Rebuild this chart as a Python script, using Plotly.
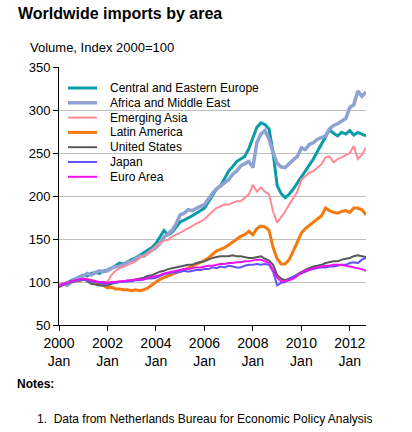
import pandas as pd
import plotly.graph_objects as go

# Bimonthly observations, Jan 2000 .. Sep 2012
dates = pd.date_range("2000-01-01", periods=77, freq="2MS")

cee = [95, 97, 99, 101, 104, 106,
       108, 107, 110, 111, 110, 113,
       114, 116, 119, 122, 121, 124,
       126, 128, 131, 134, 137, 140,
       145, 152, 160, 155, 158, 164,
       170, 172, 175, 177, 180, 183,
       186, 193, 200, 208, 212, 220,
       229, 234, 240, 243, 246, 255,
       268, 280, 285, 283, 278, 250,
       212, 203, 198, 202, 208, 215,
       223, 230, 236, 243, 252, 260,
       268, 277, 273, 270, 274, 272,
       276, 271, 274, 272, 270]
africa_me = [94, 98, 96, 100, 103, 106,
             107, 110, 108, 111, 113, 112,
             113, 116, 118, 118, 121, 123,
             124, 127, 130, 130, 134, 137,
             140, 145, 152, 156, 160, 168,
             178, 180, 184, 183, 186, 188,
             190, 197, 203, 208, 212, 216,
             219, 225, 229, 235, 238, 240,
             233, 262, 272, 276, 266, 250,
             238, 234, 233, 238, 242, 246,
             256, 254, 260, 262, 266, 268,
             270, 278, 282, 284, 287, 290,
             303, 306, 322, 316, 321]
em_asia = [97, 98, 100, 100, 102, 101,
           103, 102, 100, 101, 99, 100,
           100, 108, 113, 116, 118, 120,
           122, 124, 128, 130, 134, 137,
           142, 145, 148, 149, 153, 155,
           157, 160, 163, 165, 168, 170,
           173, 178, 182, 186, 188, 190,
           190, 192, 194, 194, 198, 202,
           213, 205, 210, 205, 202, 182,
           169, 175, 182, 190, 198, 205,
           219, 223, 227, 229, 233, 237,
           245, 246, 239, 243, 245, 248,
           250, 258, 243, 248, 256]
latam = [95, 97, 99, 100, 101, 102,
         103, 103, 102, 100, 98, 96,
         93, 94, 92, 92, 91, 91,
         90, 91, 90, 91, 93, 96,
         100, 103, 105, 107, 109, 111,
         112, 114, 116, 118, 120, 122,
         125, 128, 132, 136, 138, 140,
         143, 146, 150, 153, 155, 159,
         155, 162, 165, 164, 160, 140,
         127, 121, 121, 126, 136, 146,
         157, 162, 166, 169, 173, 177,
         186, 183, 181, 180, 182, 183,
         181, 186, 186, 184, 178]
us = [95, 97, 99, 100, 101, 102,
      103, 101, 98, 97, 96, 96,
      96, 98, 99, 100, 101, 101,
      102, 103, 104, 105, 107, 108,
      110, 112, 113, 115, 116, 117,
      118, 119, 120, 120, 122, 123,
      124, 126, 128, 129, 130, 130,
      130, 131, 130, 130, 129, 128,
      128, 129, 130, 127, 125, 120,
      108, 104, 102, 104, 106, 109,
      112, 114, 116, 118, 119, 120,
      122, 123, 124, 124, 126, 127,
      128, 130, 131, 130, 129]
japan = [95, 97, 98, 100, 101, 102,
         103, 102, 101, 100, 99, 98,
         98, 99, 99, 100, 100, 101,
         101, 102, 102, 103, 104, 104,
         105, 107, 109, 110, 111, 111,
         112, 113, 112, 113, 114, 114,
         115, 115, 117, 116, 118, 117,
         119, 118, 117, 117, 119, 120,
         120, 121, 120, 121, 120, 112,
         96, 99, 100, 104, 106, 108,
         110, 112, 114, 115, 116, 117,
         117, 118, 118, 119, 120, 120,
         122, 123, 122, 126, 128]
euro = [95, 98, 99, 101, 102, 103,
        104, 103, 102, 101, 100, 100,
        99, 100, 100, 101, 101, 102,
        102, 103, 103, 103, 105, 106,
        107, 108, 110, 111, 112, 113,
        114, 115, 115, 116, 117, 117,
        118, 119, 119, 120, 121, 121,
        122, 122, 123, 123, 124, 124,
        125, 126, 126, 124, 122, 114,
        105, 101, 101, 102, 104, 107,
        111, 113, 114, 116, 117, 118,
        119, 119, 120, 120, 120, 119,
        118, 117, 116, 115, 113]

series_names = ["Central and Eastern Europe", "Africa and Middle East",
                "Emerging Asia", "Latin America", "United States",
                "Japan", "Euro Area"]
series_values = [cee, africa_me, em_asia, latam, us, japan, euro]
colors = ["#0A9BA8", "#8FA2D4", "#FF8A96", "#F47A10", "#585858", "#6352FF", "#EE10EE"]
widths = [3, 3.5, 2, 3, 2, 2, 2]

tick_years = ["2000", "2002", "2004", "2006", "2008", "2010", "2012"]
tick_vals = [f"{y}-01-01" for y in tick_years]
tick_text = [f"{y}<br>Jan" for y in tick_years]

# plot-area geometry in pixels (for converting text placement to paper coords)
W, H = 412, 432
L, R, T, B = 59, 46, 67, 107
PW, PH = W - L - R, H - T - B


def px(x):
    return (x - L) / PW


def py(y):
    return (H - B - y) / PH


fig = go.Figure()
for name, vals, color, w in zip(series_names, series_values, colors, widths):
    fig.add_trace(go.Scatter(x=dates, y=vals, name=name, mode="lines",
                             line=dict(color=color, width=w), showlegend=False))

shapes = []
annotations = [
    dict(text="<b>Worldwide imports by area</b>", xref="paper", yref="paper",
         x=px(16), y=py(3), xanchor="left", yanchor="top",
         showarrow=False, font=dict(size=16)),
    dict(text="Volume, Index 2000=100", xref="paper", yref="paper",
         x=px(28), y=py(38), xanchor="left", yanchor="top",
         showarrow=False, font=dict(size=13)),
    dict(text="<b>Notes:</b>", xref="paper", yref="paper",
         x=px(15), y=py(375), xanchor="left", yanchor="top",
         showarrow=False, font=dict(size=12)),
    dict(text="1.  Data from Netherlands Bureau for Economic Policy Analysis",
         xref="paper", yref="paper",
         x=px(35), y=py(410), xanchor="left", yanchor="top",
         showarrow=False, font=dict(size=12)),
]
# legend drawn inside the plot, top-left
for i, (name, color, w) in enumerate(zip(series_names, colors, widths)):
    ly = 88 + i * 14.8
    shapes.append(dict(type="line", xref="paper", yref="paper",
                       x0=px(68), x1=px(97), y0=py(ly), y1=py(ly),
                       line=dict(color=color, width=w)))
    annotations.append(dict(text=name, xref="paper", yref="paper",
                            x=px(108), y=py(ly), xanchor="left", yanchor="middle",
                            showarrow=False, font=dict(size=12)))

font_family = "Liberation Sans, Arial, sans-serif"
fig.update_layout(
    width=W, height=H,
    margin=dict(l=L, r=R, t=T, b=B),
    paper_bgcolor="white", plot_bgcolor="white",
    font=dict(family=font_family, size=12, color="black"),
    showlegend=False,
    xaxis=dict(range=["2000-01-01", "2012-09-01"], tickvals=tick_vals,
               ticktext=tick_text, showgrid=False, showline=True,
               linecolor="black", linewidth=1, ticks="outside",
               ticklen=5, tickcolor="black", zeroline=False,
               tickfont=dict(size=14)),
    yaxis=dict(range=[50, 350], dtick=50, showgrid=True, gridcolor="#BEBEBE",
               gridwidth=1, showline=True, linecolor="black", linewidth=1,
               ticks="outside", ticklen=5, tickcolor="black", zeroline=False,
               tickfont=dict(size=13)),
    shapes=shapes,
    annotations=annotations,
)

fig.write_html("out.html", config={"displayModeBar": False},
               post_script="document.body.style.margin='0';document.body.style.padding='0';")
